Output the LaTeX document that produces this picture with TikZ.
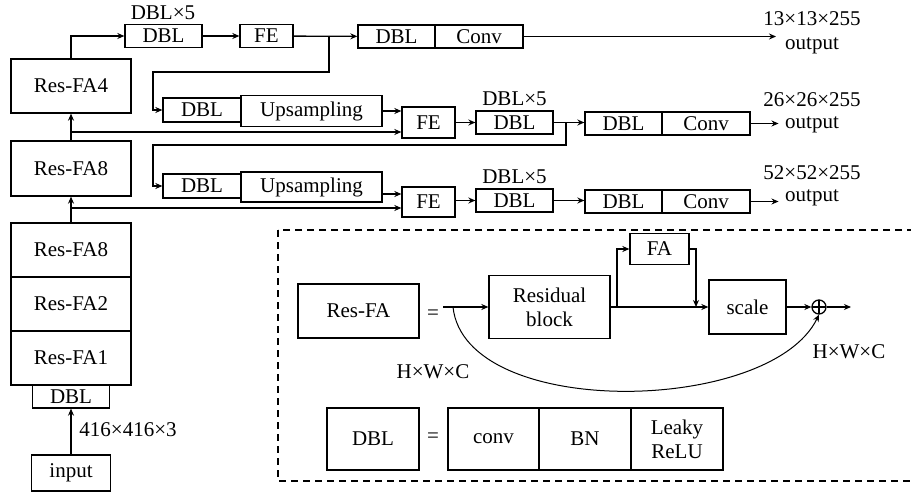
\documentclass[tikz,border=0pt]{standalone}
\usepackage{fontspec}
\setmainfont{Liberation Serif}
\usetikzlibrary{arrows.meta}
\tikzset{%
  blk/.style = { draw, inner sep=0pt, align=center },
  lbl/.style = { inner sep=0pt, align=center },
  dashed frame/.style = { dash pattern=on 7pt off 5pt },
  oplus/.style = { circle, draw, inner sep=0pt, minimum size=14pt,
    path picture={\draw (path picture bounding box.north) -- (path picture bounding box.south)
                        (path picture bounding box.west) -- (path picture bounding box.east);} }
}

\begin{document}
\begin{tikzpicture}[x=1pt, y=-1pt, line width=1.3pt, >={Stealth[length=7pt,width=6pt]},
  font=\fontsize{21}{24}\selectfont]

  \useasboundingbox (0,0) rectangle (911,492);

  % Backbone
  \node[blk, minimum width=79, minimum height=36] (input) at (71,473) {input};
  \node[lbl] (insize) at (128,430) {416×416×3};
  \node[blk, minimum width=77, minimum height=23] (dbl0) at (71,396.5) {DBL};
  \foreach \name/\txt/\y in {res1/Res-FA1/358, res2/Res-FA2/304, res8b/Res-FA8/250} {
    \node[blk, minimum width=120, minimum height=54] (\name) at (71,\y) {\txt};
  }
  \node[blk, minimum width=120, minimum height=55] (res8a) at (71,168.5) {Res-FA8};
  \node[blk, minimum width=120, minimum height=54] (res4) at (71,86) {Res-FA4};

  \draw[->] (input) -- (dbl0);
  \draw[->] (res8b) -- (res8a);
  \draw[->] (res8a) -- (res4);

  % ROW 1
  \node[lbl] (rep1) at (163,13) {DBL×5};
  \node[blk, minimum width=77, minimum height=23] (dbl1) at (163.5,36) {DBL};
  \node[blk, minimum width=53, minimum height=23] (fe1) at (266.5,36) {FE};
  \node[blk, minimum width=77, minimum height=23] (dbl1b) at (396.5,36.5) {DBL};
  \node[blk, minimum width=88, minimum height=23] (conv1) at (479,36.5) {Conv};
  \node[lbl] (out1) at (812,33) {13×13×255\\output};
  \coordinate (o1) at (776,36.5);
  \coordinate (br1) at (329,36);
  \coordinate (k1) at (153,72);

  \draw[->] (res4.north) |- (dbl1.west);
  \draw[->] (dbl1) -- (fe1);
  \draw[->] (fe1) -- (dbl1b);
  \draw[->] (conv1) -- (o1);

  % ROW 2
  \node[blk, minimum width=78, minimum height=24] (dbl2) at (202,110) {DBL};
  \node[blk, minimum width=141, minimum height=31] (ups2) at (311.5,111) {Upsampling};
  \node[blk, minimum width=53, minimum height=31] (fe2) at (428.5,122.5) {FE};
  \node[lbl] (rep2) at (514.5,99) {DBL×5};
  \node[blk, minimum width=77, minimum height=23] (dbl2b) at (514.5,122.5) {DBL};
  \node[blk, minimum width=77, minimum height=23] (dbl2c) at (623.5,123.5) {DBL};
  \node[blk, minimum width=88, minimum height=23] (conv2) at (706,123.5) {Conv};
  \node[lbl] (sz2) at (812,100) {26×26×255};
  \node[lbl] (out2) at (812,125) {output};
  \coordinate (j2) at (71,132);
  \coordinate (br2) at (566,123);
  \coordinate (k2) at (153,145);

  \draw[->] (br1) |- (k1) |- (dbl2.west);
  \draw[->] (ups2.east) -- (ups2.east -| fe2.west);
  \draw[->] (j2) -- (j2 -| fe2.west);
  \draw[->] (fe2) -- (dbl2b);
  \draw[->] (dbl2b.east) -- (dbl2b.east -| dbl2c.west);
  \draw[->, shorten >=6pt] (conv2.east) -- (conv2.east -| out2.west);

  % ROW 3
  \node[blk, minimum width=78, minimum height=24] (dbl3) at (202,186) {DBL};
  \node[blk, minimum width=141, minimum height=30] (ups3) at (311.5,187) {Upsampling};
  \node[blk, minimum width=53, minimum height=30] (fe3) at (428.5,202) {FE};
  \node[lbl] (rep3) at (514.5,177) {DBL×5};
  \node[blk, minimum width=77, minimum height=23] (dbl3b) at (514.5,200.5) {DBL};
  \node[blk, minimum width=77, minimum height=23] (dbl3c) at (623.5,201.5) {DBL};
  \node[blk, minimum width=88, minimum height=23] (conv3) at (706,201.5) {Conv};
  \node[lbl] (sz3) at (812,173) {52×52×255};
  \node[lbl] (out3) at (812,198) {output};
  \coordinate (j3) at (71,208);

  \draw[->] (br2) |- (k2) |- (dbl3.west);
  \draw[->] ([yshift=-7pt]ups3.east) -- ([yshift=-7pt]ups3.east -| fe3.west);
  \draw[->] (j3) -- (j3 -| fe3.west);
  \draw[->] (fe3.east |- dbl3b) -- (dbl3b.west);
  \draw[->] (dbl3b.east) -- (dbl3b.east -| dbl3c.west);
  \draw[->, shorten >=6pt] (conv3.east) -- (conv3.east -| out3.west);

  % Legend
  \draw[dashed frame] (278,230) rectangle (915,481);

  \node[blk, minimum width=121, minimum height=54] (resfa) at (358.5,311) {Res-FA};
  \node[lbl] (eq1) at (433,315) {=};
  \node[blk, minimum width=121, minimum height=63] (resblk) at (549.5,307) {Residual\\block};
  \node[blk, minimum width=59, minimum height=31] (fa) at (659.5,249) {FA};
  \node[blk, minimum width=77, minimum height=54] (scale) at (747.5,307) {scale};
  \node[oplus] (plus) at (819,307) {};
  \node[lbl] (hwc1) at (433,372) {H×W×C};
  \node[lbl] (hwc2) at (849,352) {H×W×C};
  \coordinate (ls) at (443,307);
  \coordinate (cs) at (453,307);
  \coordinate (b1) at (617,307);
  \coordinate (b2) at (696,307);
  \coordinate (le) at (851,307);

  \draw[->] (ls) -- (resblk);
  \draw[->] (resblk) -- (scale);
  \draw[->] (b1) |- (fa.west);
  \draw[->] (fa.east) -| (b2);
  \draw[->] (scale) -- (plus);
  \draw[->] (plus) -- (le);
  \draw[->, line width=1pt] (cs) .. controls (465,420) and (770,415) .. (plus.south);

  \node[blk, minimum width=92, minimum height=62] (dblk) at (373,439) {DBL};
  \node[lbl] (eq2) at (433,438) {=};
  \node[blk, minimum width=91, minimum height=62] (conv) at (493.5,439) {conv};
  \node[blk, minimum width=92, minimum height=62] (bn) at (585,439) {BN};
  \node[blk, minimum width=92, minimum height=62] (leaky) at (677,439) {Leaky\\ReLU};

\end{tikzpicture}
\end{document}
